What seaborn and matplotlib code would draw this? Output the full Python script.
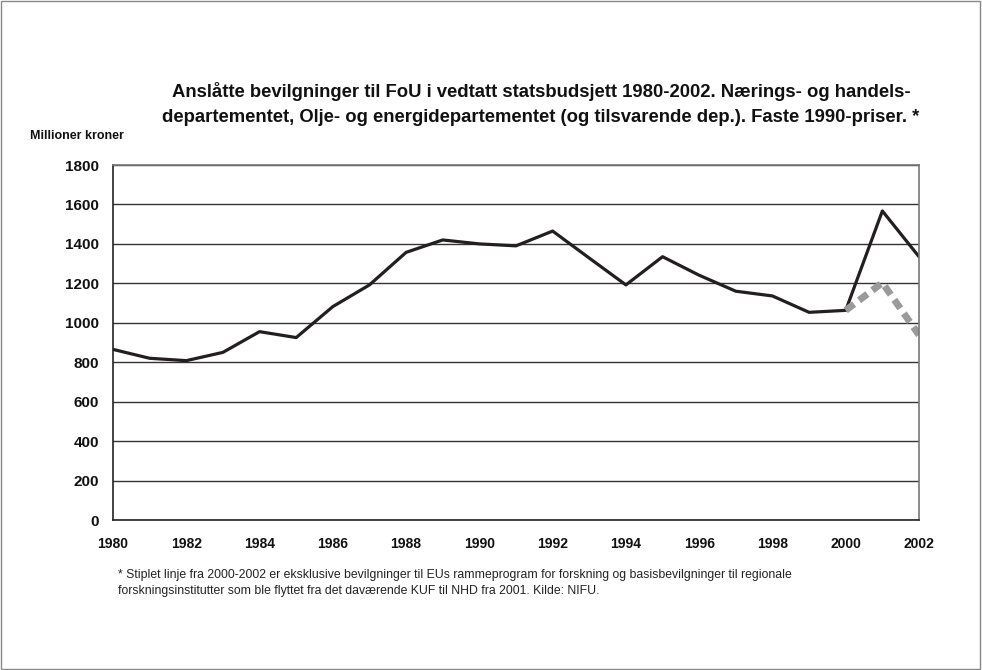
import numpy as np
import pandas as pd
import matplotlib.pyplot as plt
import seaborn as sns

# ----------------------------
# Data (Millioner kroner, faste 1990-priser)
# ----------------------------
aar = list(range(1980, 2003))
bevilgning = [865, 820, 808, 850, 955, 925, 1082, 1192, 1357, 1420, 1400, 1390,
              1465, 1328, 1192, 1335, 1241, 1160, 1136, 1053, 1063, 1567, 1335]
aar_stiplet = [2000, 2001, 2002]
bevilgning_stiplet = [1063, 1203, 938]

df = pd.DataFrame({"Aar": aar, "Bevilgning": bevilgning})
df_stiplet = pd.DataFrame({"Aar": aar_stiplet, "Bevilgning": bevilgning_stiplet})

sns.set_style("white")
plt.rcParams["font.family"] = ["Liberation Sans", "DejaVu Sans"]

fig = plt.figure(figsize=(9.82, 6.70), dpi=100)
ax = fig.add_axes([113 / 982, 1 - 520 / 670, (919 - 113) / 982, (520 - 165) / 670])

sns.lineplot(data=df, x="Aar", y="Bevilgning", color="#231f20", lw=2.3, ax=ax)
sns.lineplot(data=df_stiplet, x="Aar", y="Bevilgning", color="#9a9a9a", lw=5,
             ax=ax, dashes=False)
ax.lines[-1].set_linestyle((0, (1.5, 0.9)))
ax.lines[-1].set_dash_capstyle("butt")

ax.set_xlim(1980, 2002)
ax.set_ylim(0, 1800)
ax.set_xticks(range(1980, 2003, 2))
ax.set_xticks(range(1980, 2003), minor=True)
ax.set_yticks(range(0, 1801, 200))
ax.grid(True, axis="y", color="#333333", lw=1.0)
ax.set_axisbelow(True)
ax.tick_params(axis="both", which="both", direction="out", width=1, color="#222222")
ax.tick_params(axis="x", which="both", length=4, labelsize=10, pad=8)
ax.tick_params(axis="y", length=6, labelsize=11, pad=4)
for lbl in ax.get_xticklabels() + ax.get_yticklabels():
    lbl.set_fontweight("bold")
    lbl.set_color("#111111")
ax.set_xlabel("")
ax.set_ylabel("")
for side in ["left", "bottom"]:
    ax.spines[side].set_color("#222222")
    ax.spines[side].set_linewidth(1.2)
for side in ["top", "right"]:
    ax.spines[side].set_color("#777777")
    ax.spines[side].set_linewidth(1.2)

fig.text(541 / 982, 1 - 104 / 670,
         "Anslåtte bevilgninger til FoU i vedtatt statsbudsjett 1980-2002. Nærings- og handels-\n"
         "departementet, Olje- og energidepartementet (og tilsvarende dep.). Faste 1990-priser. *",
         ha="center", va="center", fontsize=13.3, fontweight="bold", linespacing=1.55,
         color="#111111")
fig.text(30 / 982, 1 - 136 / 670, "Millioner kroner", ha="left", va="center",
         fontsize=9, fontweight="bold", color="#111111")
fig.text(118 / 982, 1 - 583 / 670,
         "* Stiplet linje fra 2000-2002 er eksklusive bevilgninger til EUs rammeprogram for forskning og basisbevilgninger til regionale\n"
         "forskningsinstitutter som ble flyttet fra det daværende KUF til NHD fra 2001. Kilde: NIFU.",
         ha="left", va="center", fontsize=8.8, linespacing=1.5, color="#222222")

# Ramme rundt hele figuren
fig.patches.append(plt.Rectangle((0.001, 0.001), 0.997, 0.997, transform=fig.transFigure,
                                 fill=False, edgecolor="#888888", lw=1))

fig.savefig("out.png", dpi=100)
